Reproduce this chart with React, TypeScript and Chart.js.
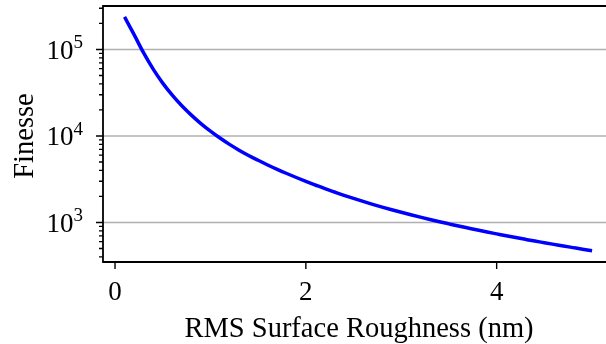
import { useEffect, useRef } from "react";
import { Chart, registerables } from "chart.js";

Chart.register(...registerables);

// ---- data ----
const roughness = [
  0.1, 0.2, 0.3, 0.4, 0.5, 0.6, 0.7, 0.8, 0.9, 1.0,
  1.1, 1.2, 1.3, 1.4, 1.5, 1.6, 1.7, 1.8, 1.9, 2.0,
  2.1, 2.2, 2.3, 2.4, 2.5, 2.6, 2.7, 2.8, 2.9, 3.0,
  3.1, 3.2, 3.3, 3.4, 3.5, 3.6, 3.7, 3.8, 3.9, 4.0,
  4.1, 4.2, 4.3, 4.4, 4.5, 4.6, 4.7, 4.8, 4.9, 5.0,
];
const finesse = [
  237800, 148300, 91100, 59200, 40800, 29600, 22300, 17400, 13900, 11370,
  9460, 7990, 6850, 5950, 5230, 4620, 4110, 3680, 3310, 2990,
  2710, 2460, 2250, 2060, 1895, 1750, 1620, 1505, 1402, 1310,
  1227, 1152, 1083, 1020, 963, 910, 862, 817, 776, 738,
  702, 669, 638, 609, 583, 558, 534, 512, 491, 472,
];
const xTicks = [0, 2, 4];
const xTickLabels = ["0", "2", "4"];
const yMajorTicks = [1e3, 1e4, 1e5];
const yTickExponents = ["3", "4", "5"];
const xTitle = "RMS Surface Roughness (nm)";
const yTitle = "Finesse";

const X_MIN = -0.126;
const X_MAX = 5.146;
const Y_MIN = 349;
const Y_MAX = 318000;

const SERIF = '"Liberation Serif", "Times New Roman", serif';

const axesPlugin = {
  id: "mplAxes",
  beforeDatasetsDraw(chart: any) {
    const { ctx, chartArea } = chart;
    const y = chart.scales.y;
    ctx.save();
    ctx.strokeStyle = "#b0b0b0";
    ctx.lineWidth = 1.6;
    for (const v of yMajorTicks) {
      const py = y.getPixelForValue(v);
      ctx.beginPath();
      ctx.moveTo(chartArea.left, py);
      ctx.lineTo(chartArea.right, py);
      ctx.stroke();
    }
    ctx.restore();
  },
  afterDraw(chart: any) {
    const { ctx, chartArea } = chart;
    const x = chart.scales.x;
    const y = chart.scales.y;
    const L = chartArea.left;
    const R = chartArea.right;
    const T = chartArea.top;
    const B = chartArea.bottom;
    ctx.save();
    ctx.strokeStyle = "#000";
    ctx.fillStyle = "#000";
    // spines
    ctx.lineWidth = 1.8;
    ctx.beginPath();
    ctx.moveTo(L, T);
    ctx.lineTo(R, T);
    ctx.moveTo(L, T - 0.9);
    ctx.lineTo(L, B + 0.9);
    ctx.moveTo(L, B);
    ctx.lineTo(R, B);
    ctx.stroke();

    // y ticks (major + minor)
    ctx.lineWidth = 1.4;
    ctx.beginPath();
    for (let d = 2; d <= 5; d++) {
      for (let m = 1; m <= 9; m++) {
        const v = m * Math.pow(10, d);
        if (v < Y_MIN || v > Y_MAX) continue;
        const py = y.getPixelForValue(v);
        const len = m === 1 ? 7 : 4;
        ctx.moveTo(L, py);
        ctx.lineTo(L - len, py);
      }
    }
    // x ticks
    for (const v of xTicks) {
      const px = x.getPixelForValue(v);
      ctx.moveTo(px, B);
      ctx.lineTo(px, B + 7);
    }
    ctx.stroke();

    // y tick labels 10^n
    const rightEdge = L - 20;
    yMajorTicks.forEach((v, i) => {
      const py = y.getPixelForValue(v);
      ctx.font = `27px ${SERIF}`;
      const w1 = ctx.measureText("10").width;
      ctx.font = `19px ${SERIF}`;
      const w2 = ctx.measureText(yTickExponents[i]).width;
      ctx.textAlign = "left";
      ctx.textBaseline = "alphabetic";
      ctx.font = `27px ${SERIF}`;
      ctx.fillText("10", rightEdge - w2 - w1, py + 9.5);
      ctx.font = `19px ${SERIF}`;
      ctx.fillText(yTickExponents[i], rightEdge - w2, py - 1);
    });

    // x tick labels
    ctx.font = `27px ${SERIF}`;
    ctx.textAlign = "center";
    ctx.textBaseline = "alphabetic";
    xTicks.forEach((v, i) => {
      const px = x.getPixelForValue(v);
      ctx.fillText(xTickLabels[i], px, B + 38);
    });

    // x title
    ctx.font = `28.5px ${SERIF}`;
    ctx.fillText(xTitle, 359, B + 74.5);

    // y title
    ctx.save();
    ctx.translate(33, 136);
    ctx.rotate(-Math.PI / 2);
    ctx.font = `28.5px ${SERIF}`;
    ctx.textAlign = "center";
    ctx.fillText(yTitle, 0, 0);
    ctx.restore();

    ctx.restore();
  },
};

export default function App() {
  const canvasRef = useRef<HTMLCanvasElement | null>(null);

  useEffect(() => {
    const canvas = canvasRef.current;
    if (!canvas) return;
    const points = roughness.map((r, i) => ({ x: r, y: finesse[i] }));
    const chart = new Chart(canvas, {
      type: "line",
      data: {
        datasets: [
          {
            data: points,
            borderColor: "#0000ff",
            borderWidth: 3.5,
            pointRadius: 0,
            cubicInterpolationMode: "monotone",
            fill: false,
          },
        ],
      },
      options: {
        responsive: false,
        animation: false,
        devicePixelRatio: 1,
        layout: { padding: { left: 103, top: 6, right: 0, bottom: 82 } },
        plugins: {
          legend: { display: false },
          tooltip: { enabled: false },
        },
        scales: {
          x: { type: "linear", min: X_MIN, max: X_MAX, display: false },
          y: { type: "logarithmic", min: Y_MIN, max: Y_MAX, display: false },
        },
      },
      plugins: [axesPlugin],
    });
    return () => chart.destroy();
  }, []);

  return (
    <div style={{ position: "fixed", left: 0, top: 0, width: 606, height: 344, background: "#fff" }}>
      <canvas ref={canvasRef} width={606} height={344} style={{ display: "block" }} />
    </div>
  );
}
